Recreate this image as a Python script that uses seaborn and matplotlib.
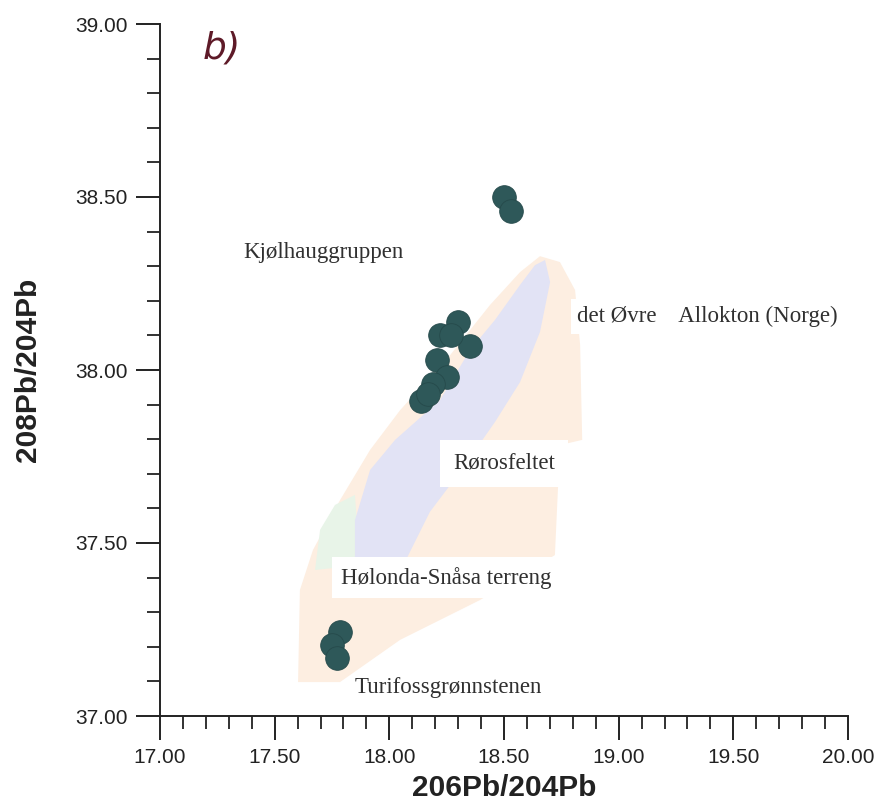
import numpy as np
import pandas as pd
import matplotlib
matplotlib.use("Agg")
import matplotlib.pyplot as plt
from matplotlib.patches import Polygon
from matplotlib.ticker import MultipleLocator, FormatStrFormatter
import seaborn as sns

# Sample isotope ratios
pb206_204 = [18.50, 18.53, 18.30, 18.22, 18.35, 18.27, 18.21, 18.25, 18.19, 18.14, 18.17,
             17.785, 17.75, 17.77]
pb208_204 = [38.50, 38.46, 38.14, 38.10, 38.07, 38.10, 38.03, 37.98, 37.96, 37.91, 37.93,
             37.244, 37.206, 37.169]

# Reference fields (206Pb/204Pb, 208Pb/204Pb outlines)
allokton_x = [17.602, 17.610, 17.667, 17.785, 17.916, 18.047, 18.265, 18.439, 18.570,
              18.657, 18.744, 18.810, 18.832, 18.841, 18.744, 18.722, 18.395, 18.047, 17.785]
allokton_y = [37.098, 37.364, 37.480, 37.624, 37.769, 37.884, 38.043, 38.188, 38.283,
              38.329, 38.312, 38.231, 38.072, 37.798, 37.783, 37.465, 37.335, 37.220, 37.098]

roros_x = [18.679, 18.701, 18.657, 18.570, 18.461, 18.308, 18.177, 18.068, 17.959, 17.850,
           17.850, 17.916, 18.025, 18.221, 18.352, 18.461, 18.570, 18.635]
roros_y = [38.318, 38.254, 38.110, 37.965, 37.850, 37.705, 37.590, 37.445, 37.416, 37.431,
           37.566, 37.711, 37.798, 37.913, 38.058, 38.145, 38.246, 38.303]

holonda_x = [17.676, 17.698, 17.763, 17.850, 17.872]
holonda_y = [37.422, 37.538, 37.610, 37.639, 37.436]

df = pd.DataFrame({"x": pb206_204, "y": pb208_204})

sns.set_theme(style="white")
plt.rcParams["font.family"] = ["Liberation Sans", "DejaVu Sans"]

fig = plt.figure(figsize=(8.81, 8.02), dpi=100)
ax = fig.add_axes([160 / 881, 1 - 716 / 802, 688 / 881, 692 / 802])

ax.add_patch(Polygon(np.column_stack([allokton_x, allokton_y]), closed=True,
                     facecolor="#fdeee1", edgecolor="none", zorder=1))
ax.add_patch(Polygon(np.column_stack([holonda_x, holonda_y]), closed=True,
                     facecolor="#e8f4e8", edgecolor="none", zorder=1.1))
ax.add_patch(Polygon(np.column_stack([roros_x, roros_y]), closed=True,
                     facecolor="#e2e3f5", edgecolor="none", zorder=1.2))

sns.scatterplot(data=df, x="x", y="y", ax=ax, s=290, color="#2e5859",
                edgecolor="#264a4b", linewidth=0.6, zorder=5, legend=False)

serif = ["Liberation Serif", "DejaVu Serif"]
txt = "#303030"
ax.text(17.362, 38.341, "Kjølhauggruppen", family=serif, fontsize=16.5, color=txt,
        ha="left", va="center", zorder=6)
ax.text(18.82, 38.155, "det Øvre    Allokton (Norge)", family=serif, fontsize=16.5,
        color=txt, ha="left", va="center", zorder=6,
        bbox=dict(facecolor="white", edgecolor="none", pad=5))
ax.text(18.50, 37.73, "Rørosfeltet", family=serif, fontsize=16.5, color=txt,
        ha="center", va="center", zorder=6,
        bbox=dict(facecolor="white", edgecolor="none", pad=9))
ax.text(17.79, 37.40, "Hølonda-Snåsa terreng", family=serif, fontsize=16.5,
        color=txt, ha="left", va="center", zorder=6,
        bbox=dict(facecolor="white", edgecolor="none", pad=7))
ax.text(17.85, 37.082, "Turifossgrønnstenen", family=serif, fontsize=16.5, color=txt,
        ha="left", va="center", zorder=6)
ax.text(17.185, 38.93, "b)", fontsize=27, color="#5e1a28", family=["DejaVu Sans"],
        style="italic", ha="left", va="center", zorder=6)

ax.set_xlim(17.0, 20.0)
ax.set_ylim(37.0, 39.0)
ax.xaxis.set_major_locator(MultipleLocator(0.5))
ax.xaxis.set_minor_locator(MultipleLocator(0.1))
ax.yaxis.set_major_locator(MultipleLocator(0.5))
ax.yaxis.set_minor_locator(MultipleLocator(0.1))
ax.xaxis.set_major_formatter(FormatStrFormatter("%.2f"))
ax.yaxis.set_major_formatter(FormatStrFormatter("%.2f"))

for side in ("top", "right"):
    ax.spines[side].set_visible(False)
for side in ("left", "bottom"):
    ax.spines[side].set_color("#222222")
    ax.spines[side].set_linewidth(1.4)

ax.tick_params(which="major", direction="out", length=17, width=1.4, color="#222222",
               labelsize=15, labelcolor="#222222", pad=6,
               bottom=True, left=True)
ax.tick_params(which="minor", direction="out", length=9.5, width=1.3, color="#222222",
               bottom=True, left=True)

ax.set_xlabel("206Pb/204Pb", fontsize=21.5, fontweight="bold", color="#222222", labelpad=5)
ax.set_ylabel("208Pb/204Pb", fontsize=21.5, fontweight="bold", color="#222222", labelpad=24)

fig.savefig("out.png", dpi=100, facecolor="white")
